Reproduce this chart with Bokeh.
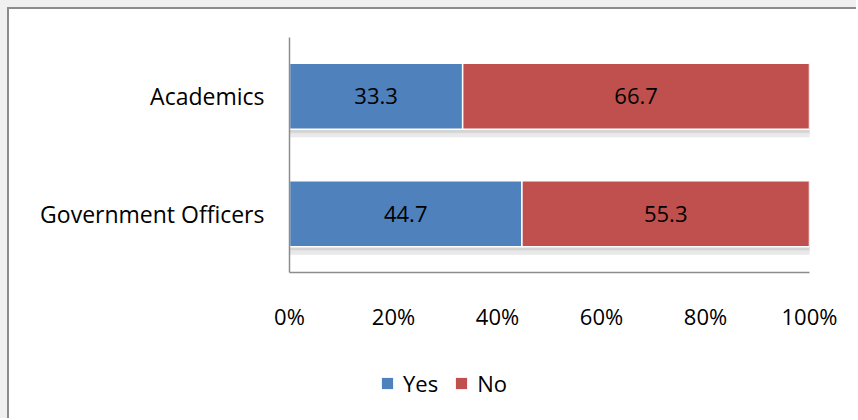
from bokeh.plotting import figure
from bokeh.models import (FactorRange, Range1d, FixedTicker, PrintfTickFormatter,
                          ColumnDataSource, Legend, LegendItem)
from bokeh.layouts import column
from bokeh.embed import file_html
from bokeh.resources import INLINE
from bokeh.core.properties import value
from bokeh.transform import dodge

categories = ["Government Officers", "Academics"]
yes_vals = [44.7, 33.3]
no_vals = [55.3, 66.7]
ticks = [0, 20, 40, 60, 80, 100]
series = ["Yes", "No"]

FONT = "Open Sans"
BLUE = "#4f81bd"
RED = "#c0504d"
EDGE = "2px solid #8c8c8c"

p = figure(width=849, height=340, y_range=FactorRange(*categories),
           x_range=Range1d(0, 100), output_backend="svg", toolbar_location=None,
           min_border_left=280, min_border_right=49, min_border_top=28,
           min_border_bottom=77)
p.background_fill_color = "white"
p.border_fill_color = "white"
p.outline_line_color = None
p.grid.visible = False

src = ColumnDataSource(dict(
    cat=categories, yes=yes_vals, no=no_vals,
    total=[a + b for a, b in zip(yes_vals, no_vals)],
    yes_mid=[a / 2 for a in yes_vals],
    no_mid=[a + b / 2 for a, b in zip(yes_vals, no_vals)],
    yes_txt=["%.1f" % v for v in yes_vals],
    no_txt=["%.1f" % v for v in no_vals],
))

# soft shadow under bars
p.hbar(y=dodge("cat", -0.3, range=p.y_range), left=0, right="total", height=0.04,
       color="#cfcfcf", alpha=0.9, source=src)
p.hbar(y=dodge("cat", -0.33, range=p.y_range), left=0, right="total", height=0.03,
       color="#e8e8e8", alpha=0.9, source=src)

p.hbar(y="cat", left=0, right="yes", height=0.56, fill_color=BLUE,
       line_color="white", line_width=1.5, source=src)
p.hbar(y="cat", left="yes", right="total", height=0.56, fill_color=RED,
       line_color="white", line_width=1.5, source=src)

p.text(x="yes_mid", y="cat", text="yes_txt", source=src, text_align="center",
       text_baseline="middle", text_font=value(FONT), text_font_size="22px",
       text_color="black")
p.text(x="no_mid", y="cat", text="no_txt", source=src, text_align="center",
       text_baseline="middle", text_font=value(FONT), text_font_size="22px",
       text_color="black")

xa = p.xaxis[0]
xa.ticker = FixedTicker(ticks=ticks)
xa.formatter = PrintfTickFormatter(format="%d%%")
xa.major_tick_line_color = None
xa.minor_tick_line_color = None
xa.axis_line_color = "#8c8c8c"
xa.axis_line_width = 1.5
xa.major_label_standoff = 22
xa.major_label_text_font = FONT
xa.major_label_text_font_size = "22px"
xa.major_label_text_color = "black"

ya = p.yaxis[0]
ya.major_tick_line_color = None
ya.minor_tick_line_color = None
ya.axis_line_color = "#8c8c8c"
ya.axis_line_width = 1.5
ya.major_label_standoff = 19
ya.major_label_text_font = FONT
ya.major_label_text_font_size = "23px"
ya.major_label_text_color = "black"

# legend strip below the chart: zero-height copies of the bars, only for the legend
p2 = figure(width=849, height=71, output_backend="svg", toolbar_location=None,
            min_border=0, x_range=Range1d(1000, 1100),
            y_range=FactorRange(*categories))
p2.background_fill_color = "white"
p2.border_fill_color = "white"
p2.outline_line_color = None
p2.grid.visible = False
p2.axis.visible = False
r_yes = p2.hbar(y="cat", left=0, right="yes", height=0, fill_color=BLUE,
                line_color=None, source=src)
r_no = p2.hbar(y="cat", left="yes", right="total", height=0, fill_color=RED,
               line_color=None, source=src)
legend = Legend(items=[LegendItem(label=series[0], renderers=[r_yes]),
                       LegendItem(label=series[1], renderers=[r_no])],
                orientation="horizontal", location=(91, 20),
                label_text_font=FONT, label_text_font_size="22px",
                label_text_color="black",
                glyph_width=14, glyph_height=14, spacing=16, label_standoff=9,
                background_fill_alpha=0, border_line_color=None, padding=0, margin=0)
p2.add_layout(legend, "center")

p.styles = {"border-left": EDGE, "border-top": EDGE, "background-color": "white"}
p2.styles = {"border-left": EDGE, "background-color": "white"}
layout = column(p, p2, spacing=0,
                styles={"background-color": "#f0f0f0", "padding-left": "7px",
                        "padding-top": "7px"})

open("out.html", "w").write(file_html(layout, INLINE))
